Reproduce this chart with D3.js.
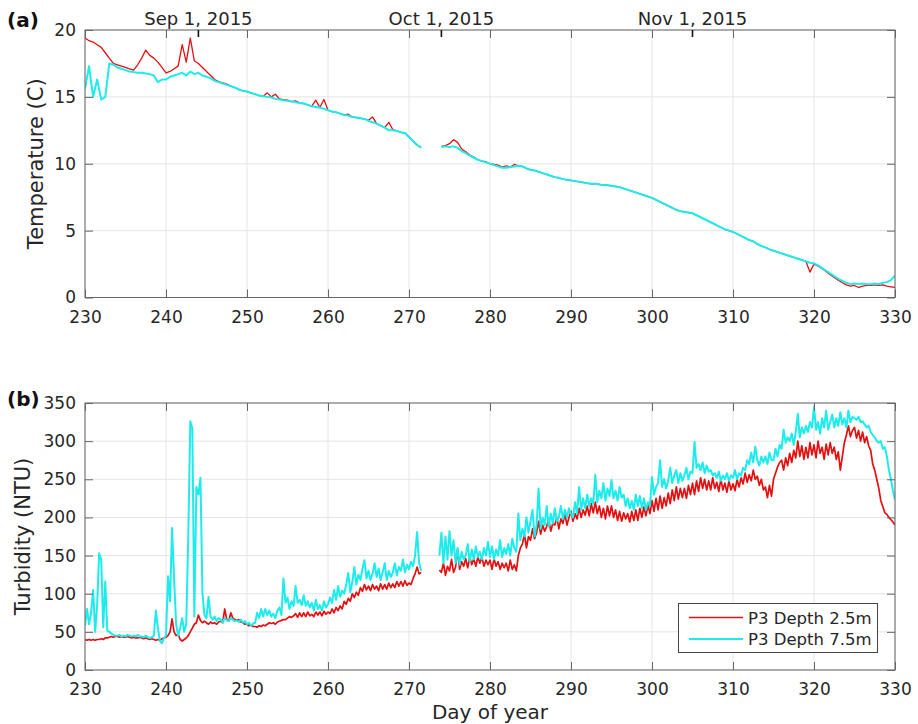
<!DOCTYPE html>
<html>
<head>
<meta charset="utf-8">
<script src="https://cdn.jsdelivr.net/npm/d3@7"></script>
<style>
  body { margin: 0; background: #fff; }
  svg { display: block; font-family: "DejaVu Sans", sans-serif; }
</style>
</head>
<body>
<svg id="chart" width="918" height="724"></svg>
<script>
// ---- Data -------------------------------------------------------------
// Day-of-year axis
const dayStart = 230;
const xTicks = [230, 240, 250, 260, 270, 280, 290, 300, 310, 320, 330];

// Calendar ticks along the top of panel (a)
const dateDays = [244, 274, 305];
const dateLabels = ["Sep 1, 2015", "Oct 1, 2015", "Nov 1, 2015"];

// Temperature (C), sampled every 0.5 day from day 230 (null = no record)
const tempStep = 0.5;
const tempTicks = [0, 5, 10, 15, 20];
const temp25 = [
  19.4, 19.2, 19.1, 18.9, 18.7, 18.3, 17.9, 17.5, 17.4, 17.3,
  17.2, 17.1, 17.0, 17.4, 17.9, 18.5, 18.1, 17.9, 17.6, 17.2,
  16.8, 16.9, 17.1, 17.3, 18.9, 17.6, 19.4, 17.7, 17.5, 17.2,
  16.9, 16.6, 16.3, 16.15, 16.05, 15.95, 15.8, 15.7, 15.55, 15.45,
  15.4, 15.3, 15.2, 15.1, 15.05, 15.3, 15.0, 15.2, 14.85, 14.8,
  14.75, 14.65, 14.7, 14.55, 14.5, 14.4, 14.3, 14.75, 14.2, 14.8,
  14.0, 13.9, 13.85, 13.75, 13.65, 13.7, 13.5, 13.45, 13.4, 13.35,
  13.25, 13.5, 13.0, 12.85, 12.7, 13.1, 12.55, 12.45, 12.35, 12.3,
  12.0, 11.7, 11.4, 11.2, null, null, null, null, 11.3, 11.35,
  11.5, 11.8, 11.6, 11.1, 10.9, 10.65, 10.5, 10.3, 10.2, 10.15,
  10.0, 9.95, 9.9, 9.75, 9.85, 9.75, 9.95, 9.85, 9.8, 9.65,
  9.55, 9.5, 9.4, 9.3, 9.2, 9.1, 9.0, 8.95, 8.85, 8.8,
  8.75, 8.7, 8.65, 8.6, 8.55, 8.5, 8.5, 8.45, 8.4, 8.4,
  8.35, 8.3, 8.25, 8.15, 8.05, 7.95, 7.85, 7.75, 7.65, 7.55,
  7.45, 7.3, 7.15, 7.0, 6.85, 6.7, 6.55, 6.45, 6.4, 6.35,
  6.3, 6.15, 6.0, 5.85, 5.7, 5.55, 5.4, 5.25, 5.1, 5.0,
  4.9, 4.75, 4.6, 4.45, 4.3, 4.2, 4.0, 3.85, 3.75, 3.6,
  3.5, 3.4, 3.3, 3.2, 3.1, 3.0, 2.9, 2.8, 2.7, 1.9,
  2.5, 2.35, 2.15, 1.95, 1.7, 1.5, 1.3, 1.1, 0.95, 0.85,
  0.9, 0.75, 0.85, 0.9, 0.9, 0.95, 0.9, 0.95, 0.85, 0.8,
  0.75
];
const temp75 = [
  15.6, 17.3, 15.0, 16.3, 14.8, 15.0, 17.5, 17.4, 17.2, 17.1,
  17.0, 16.9, 16.85, 16.8, 16.8, 16.75, 16.7, 16.6, 16.1, 16.3,
  16.3, 16.5, 16.6, 16.7, 16.8, 16.6, 16.9, 16.7, 16.8, 16.6,
  16.5, 16.4, 16.2, 16.1, 16.0, 15.9, 15.8, 15.7, 15.55, 15.45,
  15.4, 15.3, 15.2, 15.1, 15.05, 15.0, 14.95, 14.85, 14.8, 14.75,
  14.7, 14.65, 14.6, 14.55, 14.5, 14.4, 14.3, 14.25, 14.2, 14.1,
  14.0, 13.9, 13.85, 13.75, 13.65, 13.6, 13.5, 13.45, 13.4, 13.35,
  13.2, 13.1, 13.0, 12.85, 12.7, 12.5, 12.5, 12.45, 12.35, 12.3,
  12.0, 11.7, 11.4, 11.2, null, null, null, null, 11.25, 11.3,
  11.25, 11.3, 11.2, 10.95, 10.8, 10.6, 10.45, 10.3, 10.2, 10.1,
  10.0, 9.9, 9.8, 9.7, 9.7, 9.75, 9.8, 9.85, 9.8, 9.65,
  9.55, 9.5, 9.4, 9.3, 9.2, 9.1, 9.0, 8.95, 8.85, 8.8,
  8.75, 8.7, 8.65, 8.6, 8.55, 8.5, 8.5, 8.45, 8.4, 8.4,
  8.35, 8.3, 8.25, 8.15, 8.05, 7.95, 7.85, 7.75, 7.65, 7.55,
  7.45, 7.3, 7.15, 7.0, 6.85, 6.7, 6.55, 6.45, 6.4, 6.35,
  6.3, 6.15, 6.0, 5.85, 5.7, 5.55, 5.4, 5.25, 5.1, 5.0,
  4.9, 4.75, 4.6, 4.45, 4.3, 4.2, 4.0, 3.85, 3.75, 3.6,
  3.5, 3.4, 3.3, 3.2, 3.1, 3.0, 2.9, 2.8, 2.7, 2.6,
  2.55, 2.4, 2.2, 2.0, 1.8, 1.6, 1.4, 1.25, 1.1, 1.0,
  1.05, 1.0, 1.05, 1.0, 1.0, 1.05, 1.0, 1.1, 1.15, 1.3,
  1.65
];

// Turbidity (NTU), sampled every 0.25 day from day 230 (null = no record)
const turbStep = 0.25;
const turbTicks = [0, 50, 100, 150, 200, 250, 300, 350];
const turb25 = [
  40, 39, 40, 39,   40, 39, 40, 40,
  41, 40, 42, 42,   43, 44, 43, 44,
  44, 43, 44, 43,   43, 44, 43, 42,
  43, 42, 42, 43,   42, 41, 42, 41,
  40, 41, 40, 39,   40, 39, 41, 42,
  43, 45, 50, 67,   50, 45, 47, 40,
  38, 40, 42, 45,   50, 55, 60, 62,
  72, 65, 62, 64,   62, 60, 63, 61,
  62, 60, 63, 64,   62, 80, 66, 64,
  75, 68, 66, 65,   66, 63, 62, 60,
  60, 58, 59, 57,   57, 56, 58, 57,
  59, 58, 60, 62,   61, 62, 60, 63,
  64, 65, 66, 66,   68, 70, 69, 71,
  74, 69, 75, 70,   75, 70, 76, 71,
  73, 70, 76, 72,   76, 71, 77, 73,
  76, 74, 80, 75,   82, 78, 84, 80,
  90, 86, 94, 90,   100, 95, 102, 98,
  108, 103, 112, 105,   110, 104, 112, 106,
  110, 104, 113, 106,   112, 106, 114, 108,
  113, 108, 116, 110,   116, 110, 117, 111,
  114, 112, 120, 126,   135, 126, 128, null,
  null, null, null, null,   null, null, null, 131,
  128, 140, 124, 136,   130, 145, 128, 135,
  158, 132, 142, 136,   146, 134, 148, 138,
  146, 136, 148, 140,   148, 136, 144, 138,
  144, 132, 146, 136,   142, 132, 140, 134,
  140, 130, 144, 132,   138, 130, 150, 160,
  165, 178, 160, 175,   170, 185, 172, 180,
  195, 178, 190, 182,   188, 198, 182, 192,
  190, 200, 185, 198,   192, 205, 190, 200,
  208, 195, 205, 198,   212, 200, 210, 203,
  215, 202, 218, 206,   220, 205, 215, 200,
  212, 198, 215, 202,   215, 200, 210, 196,
  208, 195, 206, 198,   205, 194, 208, 196,
  210, 196, 212, 200,   214, 202, 216, 205,
  222, 208, 225, 210,   228, 212, 226, 215,
  232, 218, 236, 222,   240, 224, 238, 226,
  238, 225, 242, 230,   245, 230, 248, 234,
  252, 238, 250, 236,   248, 236, 252, 238,
  246, 234, 250, 236,   245, 233, 248, 236,
  244, 235, 250, 240,   252, 244, 258, 246,
  256, 248, 262, 250,   254, 242, 250, 236,
  240, 226, 242, 228,   250, 258, 266, 272,
  275, 262, 278, 268,   284, 272, 288, 278,
  300, 280, 294, 276,   292, 278, 298, 282,
  295, 278, 300, 284,   292, 276, 296, 282,
  298, 284, 292, 276,   286, 262, 280, 298,
  308, 320, 306, 314,   318, 304, 314, 300,
  312, 298, 306, 294,   288, 270, 262, 250,
  238, 222, 214, 206,   204, 200, 197, 194,
  190
];
const turb75 = [
  58, 80, 60, 75,   105, 50, 85, 153,
  145, 56, 116, 52,   50, 48, 46, 45,
  45, 46, 44, 45,   44, 46, 45, 44,
  45, 44, 46, 44,   44, 43, 45, 43,
  42, 43, 45, 78,   55, 38, 35, 42,
  45, 123, 90, 186,   120, 60, 45, 55,
  68, 50, 60, 175,   326, 317, 70, 240,
  230, 252, 100, 72,   68, 96, 70, 66,
  70, 64, 68, 66,   62, 68, 65, 64,
  68, 66, 64, 65,   63, 66, 62, 64,
  60, 62, 58, 61,   62, 75, 68, 80,
  70, 80, 72, 78,   70, 74, 68, 78,
  82, 72, 120, 88,   95, 80, 90, 84,
  110, 88, 92, 85,   98, 84, 90, 82,
  88, 78, 92, 80,   85, 78, 90, 82,
  86, 95, 88, 105,   92, 110, 96, 104,
  100, 112, 127, 102,   115, 135, 112, 125,
  118, 132, 144, 120,   130, 118, 126, 140,
  122, 133, 118, 128,   140, 118, 130, 122,
  128, 140, 124, 135,   130, 145, 128, 138,
  132, 142, 136, 150,   181, 140, 130, null,
  null, null, null, null,   null, null, null, 150,
  180, 140, 175, 145,   182, 150, 170, 140,
  160, 138, 155, 145,   150, 165, 142, 158,
  145, 162, 148, 155,   145, 160, 150, 168,
  148, 162, 145, 158,   150, 170, 148, 160,
  152, 165, 150, 172,   160, 155, 205, 170,
  185, 175, 200, 180,   195, 210, 175, 190,
  238, 185, 200, 190,   215, 188, 205, 192,
  212, 195, 200, 215,   198, 210, 200, 212,
  205, 200, 220, 205,   240, 210, 225, 212,
  230, 215, 225, 218,   256, 220, 235, 225,
  245, 222, 238, 228,   249, 225, 235, 222,
  240, 226, 230, 215,   225, 212, 222, 210,
  230, 215, 228, 212,   225, 210, 220, 215,
  253, 230, 240, 245,   275, 240, 250, 238,
  248, 265, 245, 255,   262, 245, 258, 248,
  255, 265, 250, 260,   258, 299, 265, 270,
  262, 272, 258, 268,   260, 262, 255, 258,
  252, 260, 248, 255,   250, 258, 248, 255,
  252, 262, 250, 258,   255, 265, 262, 275,
  270, 285, 272, 293,   275, 268, 280, 272,
  280, 270, 285, 275,   275, 290, 280, 295,
  290, 315, 298, 305,   300, 310, 295, 312,
  336, 305, 318, 310,   320, 312, 325, 318,
  345, 315, 325, 310,   330, 318, 340, 315,
  325, 335, 318, 330,   320, 338, 322, 330,
  318, 340, 325, 332,   330, 328, 332, 325,
  326, 322, 318, 320,   312, 308, 305, 300,
  298, 300, 290, 292,   280, 262, 250, 235,
  223
];

const seriesNames = ["P3 Depth 2.5m", "P3 Depth 7.5m"];
const seriesColors = ["#e41010", "#1cecec"];

// ---- Layout -----------------------------------------------------------
const plotLeft = 85, plotRight = 895;
const panels = [
  { top: 30, bottom: 297.5, label: "(a)", labelY: 27, title: "Temperature (C)", titleX: 42.5,
    domain: [0, 20], ticks: tempTicks, step: tempStep, data: [temp25, temp75], widths: [1.3, 2] },
  { top: 403, bottom: 670, label: "(b)", labelY: 406, title: "Turbidity (NTU)", titleX: 30,
    domain: [0, 350], ticks: turbTicks, step: turbStep, data: [turb25, turb75], widths: [1.7, 2] }
];

const svg = d3.select("#chart");
const x = d3.scaleLinear().domain([230, 330]).range([plotLeft, plotRight]);

const axisColor = "#666666";
const gridColor = "#e4e4e4";
const textColor = "#262626";

panels.forEach((p, pi) => {
  const y = d3.scaleLinear().domain(p.domain).range([p.bottom, p.top]);
  const g = svg.append("g");
  const h = p.bottom - p.top;

  // grid
  g.append("g").selectAll("line").data(xTicks).join("line")
    .attr("x1", d => x(d)).attr("x2", d => x(d))
    .attr("y1", p.top).attr("y2", p.bottom)
    .attr("stroke", gridColor).attr("stroke-width", 1);
  g.append("g").selectAll("line").data(p.ticks).join("line")
    .attr("x1", plotLeft).attr("x2", plotRight)
    .attr("y1", d => y(d)).attr("y2", d => y(d))
    .attr("stroke", gridColor).attr("stroke-width", 1);

  // data lines
  const clipId = "clip" + pi;
  svg.append("clipPath").attr("id", clipId).append("rect")
    .attr("x", plotLeft).attr("y", p.top)
    .attr("width", plotRight - plotLeft).attr("height", h);
  const line = d3.line()
    .defined(d => d.v != null)
    .x(d => x(d.day)).y(d => y(d.v));
  p.data.forEach((arr, si) => {
    const pts = arr.map((v, i) => ({ day: dayStart + i * p.step, v }));
    g.append("path").datum(pts)
      .attr("clip-path", `url(#${clipId})`)
      .attr("fill", "none")
      .attr("stroke", seriesColors[si])
      .attr("stroke-width", p.widths[si])
      .attr("stroke-linejoin", "round")
      .attr("d", line);
  });

  // axes (MATLAB-style inward ticks on all four sides)
  const styleAxis = sel => {
    sel.select(".domain").remove();
    sel.selectAll(".tick line").attr("stroke", axisColor);
    sel.selectAll(".tick text").attr("fill", textColor)
      .style("font-size", "17px").style("font-family", "DejaVu Sans, sans-serif");
  };
  g.append("g").attr("transform", `translate(0,${p.bottom})`)
    .call(d3.axisBottom(x).tickValues(xTicks).tickSize(-8).tickPadding(13).tickFormat(d3.format("d")))
    .call(styleAxis);
  g.append("g").attr("transform", `translate(0,${p.top})`)
    .call(d3.axisTop(x).tickValues(xTicks).tickSize(-8).tickFormat(""))
    .call(styleAxis);
  g.append("g").attr("transform", `translate(${plotLeft},0)`)
    .call(d3.axisLeft(y).tickValues(p.ticks).tickSize(-8).tickPadding(9).tickFormat(d3.format("d")))
    .call(styleAxis);
  g.append("g").attr("transform", `translate(${plotRight},0)`)
    .call(d3.axisRight(y).tickValues(p.ticks).tickSize(-8).tickFormat(""))
    .call(styleAxis);

  // box
  g.append("rect")
    .attr("x", plotLeft).attr("y", p.top)
    .attr("width", plotRight - plotLeft).attr("height", h)
    .attr("fill", "none").attr("stroke", axisColor).attr("stroke-width", 1);

  // panel letter
  svg.append("text").attr("x", 7).attr("y", p.labelY)
    .attr("font-weight", "bold").attr("font-size", 20).attr("fill", "#111")
    .text(p.label);

  // y title
  svg.append("text")
    .attr("transform", `translate(${p.titleX},${(p.top + p.bottom) / 2}) rotate(-90)`)
    .attr("text-anchor", "middle").attr("font-size", 21).attr("fill", textColor)
    .text(p.title);

  // calendar axis on top of panel (a)
  if (pi === 0) {
    const dg = svg.append("g");
    dg.selectAll("line").data(dateDays).join("line")
      .attr("x1", d => x(d)).attr("x2", d => x(d))
      .attr("y1", p.top).attr("y2", p.top + 7)
      .attr("stroke", "#111").attr("stroke-width", 1.6);
    dg.selectAll("text").data(dateDays).join("text")
      .attr("x", d => x(d)).attr("y", 25)
      .attr("text-anchor", "middle").attr("font-size", 18).attr("fill", textColor)
      .text((d, i) => dateLabels[i]);
  }

  // legend in panel (b)
  if (pi === 1) {
    const lg = svg.append("g");
    lg.append("rect").attr("x", 678.5).attr("y", 603.5).attr("width", 199).attr("height", 49)
      .attr("fill", "#fff").attr("stroke", "#444").attr("stroke-width", 1);
    seriesNames.forEach((name, si) => {
      const ly = 617.5 + si * 21.5;
      lg.append("line").attr("x1", 689).attr("x2", 743).attr("y1", ly).attr("y2", ly)
        .attr("stroke", seriesColors[si]).attr("stroke-width", si === 0 ? 1.3 : 2.2);
      lg.append("text").attr("x", 748).attr("y", ly + 6)
        .attr("font-size", 16.5).attr("fill", textColor).text(name);
    });
  }
});

// x title
svg.append("text").attr("x", 490).attr("y", 719)
  .attr("text-anchor", "middle").attr("font-size", 20).attr("fill", textColor)
  .text("Day of year");
</script>
</body>
</html>
